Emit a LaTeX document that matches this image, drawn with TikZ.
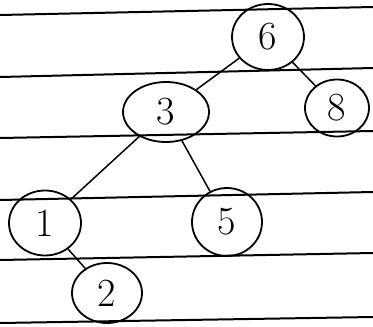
\documentclass[tikz,border=0pt]{standalone}
\usepackage{tikz}
\usetikzlibrary{shapes.geometric}

\begin{document}
\begin{tikzpicture}[x=1pt,y=-1pt,
  rule/.style={black,line width=2pt},
  key/.style={ellipse,draw,line width=1.8pt,inner sep=0pt,font=\fontsize{40}{40}\selectfont},
  link/.style={line width=1.5pt}]
  \useasboundingbox (0,0) rectangle (373,327);
  % ruled lines of the page
  \draw[rule] (0,15) -- (373,7);
  \draw[rule] (0,77) -- (373,68);
  \draw[rule] (0,138) -- (373,131);
  \draw[rule] (0,200) -- (373,192);
  \draw[rule] (0,260) -- (373,253);
  \draw[rule] (0,323) -- (373,317);
  % keys
  \node[key,minimum width=72pt,minimum height=66pt] (n6) at (268,37) {6};
  \node[key,minimum width=64pt,minimum height=57pt] (n8) at (337,108) {8};
  \node[key,minimum width=86pt,minimum height=60pt] (n3) at (166,112) {3};
  \node[key,minimum width=72pt,minimum height=65pt] (n1) at (45,223) {1};
  \node[key,minimum width=70pt,minimum height=68pt] (n5) at (227,222) {5};
  \node[key,minimum width=70pt,minimum height=60pt] (n2) at (107,293) {2};
  % links
  \draw[link] (n6) -- (n3);
  \draw[link] (n6) -- (n8);
  \draw[link] (n3) -- (n1);
  \draw[link] (n3) -- (n5);
  \draw[link] (n1) -- (n2);
\end{tikzpicture}
\end{document}
